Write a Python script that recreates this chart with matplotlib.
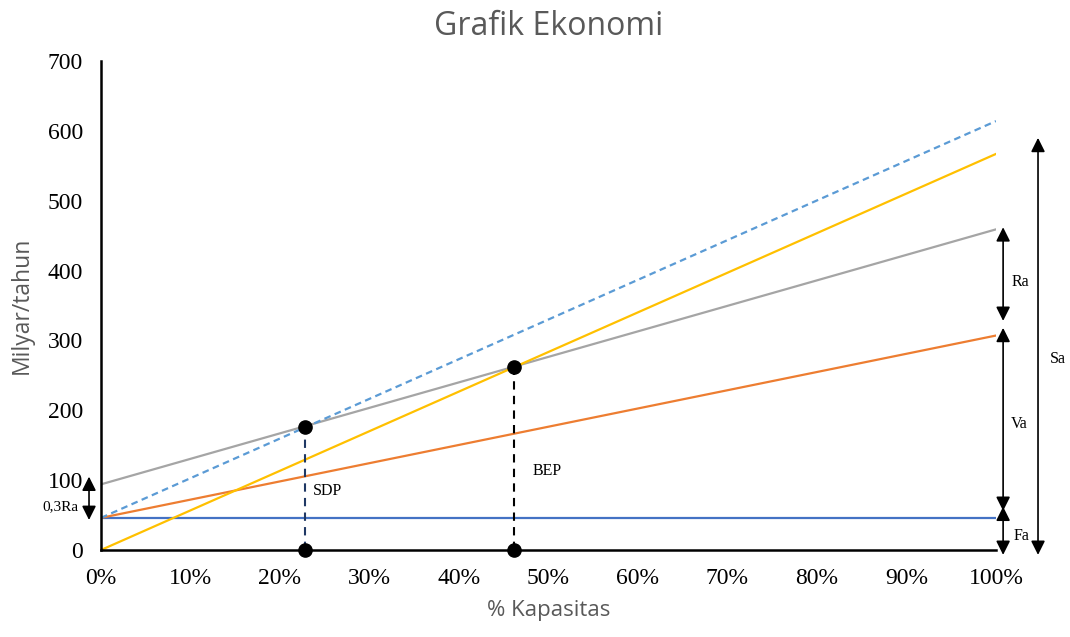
import matplotlib.pyplot as plt

# data
kapasitas = [0, 100]
fa = [46, 46]            # biaya tetap
biaya_total = [46, 307]  # Fa + Va
biaya_ra = [94, 459]     # garis abu-abu
penjualan = [0, 567]     # Sa
garis_sdp = [46, 614]    # garis putus-putus biru

sdp = (22.8, 176)
bep = (46.1, 262)

x_ticks = list(range(0, 101, 10))
x_labels = [f"{t}%" for t in x_ticks]
y_ticks = list(range(0, 701, 100))

serif = "Liberation Serif"
sans = "Open Sans"

fig = plt.figure(figsize=(10.7, 6.37), dpi=100)
ax = fig.add_axes([0.0944, 0.1366, 0.8364, 0.7676])

ax.plot(kapasitas, fa, color="#4472C4", lw=1.6)
ax.plot(kapasitas, biaya_total, color="#ED7D31", lw=1.6)
ax.plot(kapasitas, biaya_ra, color="#A5A5A5", lw=1.6)
ax.plot(kapasitas, penjualan, color="#FFC000", lw=1.6)
ax.plot(kapasitas, garis_sdp, color="#5B9BD5", lw=1.6, ls=(0, (3, 2)))

# titik SDP dan BEP + garis vertikal
ax.plot([sdp[0], sdp[0]], [0, sdp[1]], color="#1F3864", lw=1.5, ls=(0, (4, 3)))
ax.plot([bep[0], bep[0]], [0, bep[1]], color="black", lw=1.5, ls=(0, (4, 3)))
for px, py in [sdp, bep, (sdp[0], 0), (bep[0], 0)]:
    ax.plot(px, py, "o", color="black", ms=9.5, clip_on=False, zorder=5)

ax.text(sdp[0] + 0.9, 85, "SDP", family=serif, fontsize=11.5, va="center")
ax.text(bep[0] + 2.1, 113, "BEP", family=serif, fontsize=11.5, va="center")

# panah keterangan
def panah(x, y1, y2):
    ax.annotate("", xy=(x, y1), xytext=(x, y2), annotation_clip=False,
                arrowprops=dict(arrowstyle="<|-|>", color="black", lw=1.2,
                                mutation_scale=21, shrinkA=0, shrinkB=0))

panah(100.8, 462, 328)
panah(100.8, 318, 56)
panah(100.8, 62, -7)
panah(104.7, 590, -7)
panah(-1.34, 105, 43)

ax.text(101.7, 384, "Ra", family=serif, fontsize=11.5, va="center")
ax.text(101.7, 180, "Va", family=serif, fontsize=11.5, va="center")
ax.text(102.0, 20, "Fa", family=serif, fontsize=11.5, va="center")
ax.text(106.0, 274, "Sa", family=serif, fontsize=11.5, va="center")
ax.text(-2.5, 62, "0,3Ra", family=serif, fontsize=11, va="center", ha="right")

ax.set_xlim(0, 100)
ax.set_ylim(0, 700)
ax.set_xticks(x_ticks)
ax.set_xticklabels(x_labels, family=serif, fontsize=17)
ax.set_yticks(y_ticks)
ax.set_yticklabels([str(t) for t in y_ticks], family=serif, fontsize=17)
ax.tick_params(length=0, pad=13)

for s in ["top", "right"]:
    ax.spines[s].set_visible(False)
for s in ["left", "bottom"]:
    ax.spines[s].set_linewidth(1.8)

ax.set_title("Grafik Ekonomi", family=sans, fontsize=23, color="#595959", pad=19)
ax.set_xlabel("% Kapasitas", family=sans, fontsize=16, color="#595959", labelpad=8)
ax.set_ylabel("Milyar/tahun", family=sans, fontsize=16.5, color="#595959", labelpad=10)

fig.savefig("out.png", dpi=100)
